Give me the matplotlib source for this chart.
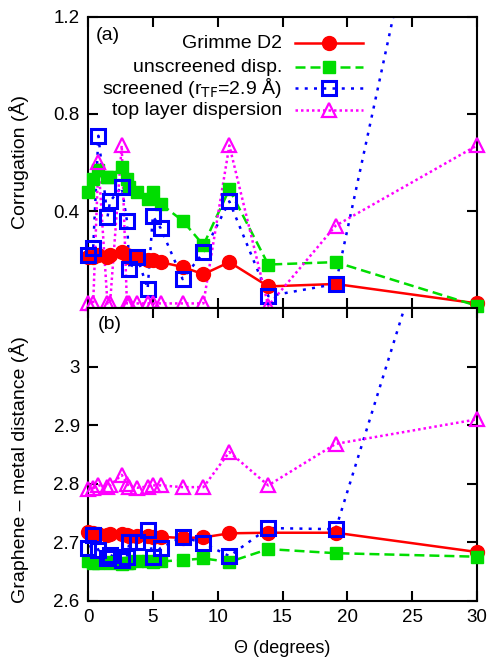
import numpy as np
import matplotlib
matplotlib.use('Agg')
import matplotlib.pyplot as plt
import matplotlib.ticker as mtp_ticker

plt.rcParams['font.family'] = ['Liberation Sans', 'DejaVu Sans']
plt.rcParams['font.size'] = 14

# rotation angles (degrees)
theta = [0, 0.4, 0.8, 1.5, 1.7, 2.6, 3.0, 3.2, 3.8, 4.6, 5.0, 5.6, 7.3, 8.9, 10.9, 13.9, 19.1, 30]

# (a) corrugation (A)
corr_grimme = [0.21, 0.21, 0.22, 0.21, 0.22, 0.23, 0.22, 0.21, 0.21, 0.20, 0.20, 0.19, 0.17, 0.14, 0.19, 0.09, 0.10, 0.02]
corr_unscr = [0.48, 0.53, 0.57, 0.54, 0.54, 0.58, 0.53, 0.50, 0.48, 0.45, 0.48, 0.43, 0.36, 0.26, 0.49, 0.18, 0.19, 0.01]
corr_scr = [0.22, 0.25, 0.71, 0.375, 0.44, 0.50, 0.36, 0.16, 0.21, 0.08, 0.38, 0.33, 0.12, 0.23, 0.44, 0.05, 0.10, 2.8]
corr_top = [0.02, 0.02, 0.60, 0.02, 0.02, 0.67, 0.02, 0.02, 0.02, 0.02, 0.02, 0.02, 0.02, 0.02, 0.67, 0.01, 0.34, 0.67]

# (b) graphene - metal distance (A)
dist_grimme = [2.717, 2.716, 2.713, 2.712, 2.713, 2.714, 2.712, 2.711, 2.710, 2.710, 2.709, 2.709, 2.707, 2.708, 2.715, 2.716, 2.716, 2.683]
dist_unscr = [2.668, 2.665, 2.664, 2.666, 2.665, 2.662, 2.664, 2.665, 2.667, 2.668, 2.666, 2.667, 2.669, 2.672, 2.666, 2.688, 2.681, 2.675]
dist_scr = [2.690, 2.712, 2.686, 2.673, 2.678, 2.669, 2.675, 2.700, 2.700, 2.720, 2.675, 2.690, 2.709, 2.698, 2.676, 2.724, 2.722, 3.5]
dist_top = [2.790, 2.792, 2.797, 2.795, 2.797, 2.815, 2.800, 2.795, 2.793, 2.795, 2.797, 2.797, 2.794, 2.794, 2.854, 2.797, 2.868, 2.91]

labels = ['Grimme D2', 'unscreened disp.', r'screened (r$_{\rm TF}$=2.9 Å)', 'top layer dispersion']

styles = [
    dict(color='#ff0000', ls='-', marker='o', ms=10, mfc='#ff0000', mec='#ff0000', mew=1),
    dict(color='#00dd00', ls=(0, (4, 2)), marker='s', ms=9, mfc='#00dd00', mec='#00dd00', mew=1),
    dict(color='#0000ff', ls=(0, (1.2, 2.5)), marker='s', ms=10, mfc='none', mec='#0000ff', mew=2.2),
    dict(color='#ff00ff', ls=(0, (1.0, 1.2)), marker='^', ms=10, mfc='none', mec='#ff00ff', mew=1.6),
]

fig = plt.figure(figsize=(4.9, 6.68), dpi=100)
ax_a = fig.add_axes([0.1796, 0.5385, 0.7939, 0.4365])
ax_b = fig.add_axes([0.1796, 0.1010, 0.7939, 0.4375])

x = np.array(theta)


def draw(ax, series, ylim):
    for y, st in zip(series, styles):
        y = np.array(y)
        ax.plot(x, y, color=st['color'], ls=st['ls'], lw=1.8, zorder=2)
        inside = (y >= ylim[0]) & (y <= ylim[1])
        ax.plot(x[inside], y[inside], ls='none', marker=st['marker'], ms=st['ms'],
                mfc=st['mfc'], mec=st['mec'], mew=st['mew'], clip_on=False, zorder=3)
    ax.set_xlim(0, 30)
    ax.set_ylim(*ylim)
    ax.set_xticks([0, 5, 10, 15, 20, 25, 30])
    ax.tick_params(direction='in', length=7, width=1.5, top=True, right=True, pad=6,
                   labelsize=13.5)
    for sp in ax.spines.values():
        sp.set_linewidth(1.5)


draw(ax_a, [corr_grimme, corr_unscr, corr_scr, corr_top], (0, 1.2))
draw(ax_b, [dist_grimme, dist_unscr, dist_scr, dist_top], (2.6, 3.1))

ax_a.set_yticks([0.4, 0.8, 1.2])
ax_a.tick_params(labelbottom=False)
ax_b.set_yticks([2.6, 2.7, 2.8, 2.9, 3.0])
ax_b.yaxis.set_major_formatter(mtp_ticker.FormatStrFormatter('%g'))

ax_a.set_ylabel('Corrugation (Å)')
ax_a.yaxis.set_label_coords(-0.152, 0.5)
ax_b.set_ylabel('Graphene – metal distance (Å)')
ax_b.yaxis.set_label_coords(-0.152, 0.447)
ax_b.set_xlabel('Θ (degrees)', labelpad=10, fontsize=13)

ax_a.text(0.02, 0.937, '(a)', transform=ax_a.transAxes, ha='left', va='center')
ax_b.text(0.025, 0.943, '(b)', transform=ax_b.transAxes, ha='left', va='center')

# gnuplot-like key: text right aligned, sample on the right
key_y = [0.909, 0.827, 0.755, 0.680]
for lab, st, ky in zip(labels, styles, key_y):
    ax_a.text(0.499, ky, lab, transform=ax_a.transAxes, ha='right', va='center')
    ax_a.plot([0.532, 0.707], [ky, ky], transform=ax_a.transAxes, color=st['color'],
              ls=st['ls'], lw=1.8)
    ax_a.plot([0.619], [ky], transform=ax_a.transAxes, ls='none', marker=st['marker'],
              ms=st['ms'], mfc=st['mfc'], mec=st['mec'], mew=st['mew'])

plt.savefig('out.png', dpi=100)
